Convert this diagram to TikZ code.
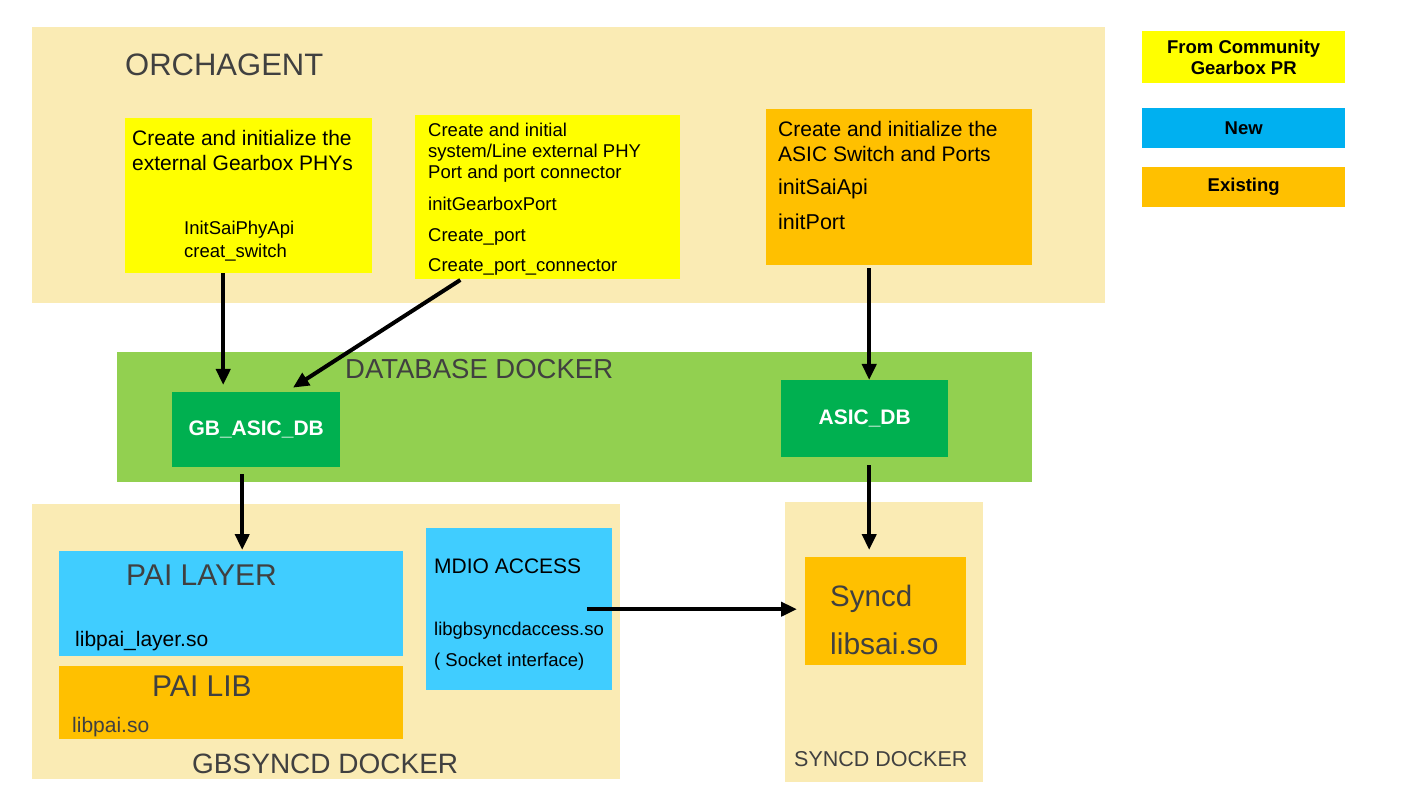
\documentclass[tikz,border=0pt]{standalone}
\usepackage{fontspec}
\setmainfont{Liberation Sans}
\usetikzlibrary{arrows.meta}
\definecolor{sabbia}{HTML}{FAEBB4}
\definecolor{giallo}{HTML}{FFFF00}
\definecolor{arancio}{HTML}{FFC000}
\definecolor{azzurro}{HTML}{00B0F0}
\definecolor{celeste}{HTML}{40CDFF}
\definecolor{verde}{HTML}{92D050}
\definecolor{verdescuro}{HTML}{00B050}
\definecolor{grigio}{HTML}{404040}
\newcommand{\fsz}[1]{\fontsize{#1}{#1}\selectfont}
\tikzset{
  blocco/.style={anchor=north west, inner sep=0pt},
  testo/.style={anchor=base west, inner sep=0pt},
  legenda/.style={blocco, align=center, font=\fsz{18.5}\bfseries},
  dbbox/.style={blocco, fill=verdescuro, text=white, font=\fsz{21}\bfseries},
  freccia/.style={-{Triangle[length=16pt,width=14pt]}, line width=4pt}
}
\begin{document}
\begin{tikzpicture}[x=1pt,y=-1pt]
  \useasboundingbox (0,0) rectangle (1424,791);
  % contenitori
  \node[blocco, fill=sabbia, minimum width=1073pt, minimum height=276pt] (orch) at (32,27) {}; % orchagent
  \node[blocco, fill=verde, minimum width=915pt, minimum height=130pt] (db) at (117,352) {}; % database docker
  \node[blocco, fill=sabbia, minimum width=588pt, minimum height=275pt] (gbsync) at (32,504) {}; % gbsyncd docker
  \node[blocco, fill=sabbia, minimum width=198pt, minimum height=280pt] (syncdock) at (785,502) {}; % syncd docker
  % riquadri orchagent
  \node[blocco, fill=giallo, minimum width=247pt, minimum height=155pt] (phy) at (125,118) {};
  \node[blocco, fill=giallo, minimum width=265pt, minimum height=164pt] (port) at (415,115) {};
  \node[blocco, fill=arancio, minimum width=266pt, minimum height=156pt] (asic) at (766,109) {};
  % legenda
  \node[legenda, fill=giallo, minimum width=203pt, minimum height=52pt] (legCom) at (1142,31) {From Community\\[2.5pt]Gearbox PR};
  \node[legenda, fill=azzurro, minimum width=203pt, minimum height=40pt] (legNew) at (1142,108) {New};
  \node[legenda, fill=arancio, minimum width=203pt, minimum height=40pt] (legOld) at (1142,167) {Existing};
  % database
  \node[dbbox, minimum width=168pt, minimum height=75pt] (gbdb) at (172,392) {GB\_ASIC\_DB};
  \node[dbbox, minimum width=167pt, minimum height=77pt] (asicdb) at (781,380) {ASIC\_DB};
  % gbsyncd e syncd
  \node[blocco, fill=celeste, minimum width=344pt, minimum height=105pt] (pail) at (59,551) {}; % pai layer
  \node[blocco, fill=arancio, minimum width=344pt, minimum height=73pt] (pailib) at (59,666) {}; % pai lib
  \node[blocco, fill=celeste, minimum width=186pt, minimum height=162pt] (mdio) at (426,528) {}; % mdio access
  \node[blocco, fill=arancio, minimum width=161pt, minimum height=108pt] (syncd) at (805,557) {}; % syncd
  % testi
  \node[testo, font=\fsz{31}, text=grigio] (tOrch) at (125,76) {ORCHAGENT};
  \node[testo, font=\fsz{21}] (tPhy1) at (132,146) {Create and initialize the};
  \node[testo, font=\fsz{21}] (tPhy2) at (132,171) {external Gearbox PHYs};
  \node[testo, font=\fsz{18.5}] (tPhy3) at (184,235) {InitSaiPhyApi};
  \node[testo, font=\fsz{18.5}] (tPhy4) at (184,258) {creat\_switch};
  \node[testo, font=\fsz{18.5}] (tPort1) at (428,137) {Create and initial};
  \node[testo, font=\fsz{18.5}] (tPort2) at (428,158) {system/Line external PHY};
  \node[testo, font=\fsz{18.5}] (tPort3) at (428,179) {Port and port connector};
  \node[testo, font=\fsz{18.5}] (tPort4) at (428,211) {initGearboxPort};
  \node[testo, font=\fsz{18.5}] (tPort5) at (428,242) {Create\_port};
  \node[testo, font=\fsz{18.5}] (tPort6) at (428,272) {Create\_port\_connector};
  \node[testo, font=\fsz{21}] (tAsic1) at (778,137) {Create and initialize the};
  \node[testo, font=\fsz{21}] (tAsic2) at (778,162) {ASIC Switch and Ports};
  \node[testo, font=\fsz{21.5}] (tAsic3) at (778,195) {initSaiApi};
  \node[testo, font=\fsz{21.5}] (tAsic4) at (778,230) {initPort};
  \node[testo, font=\fsz{27.5}, text=grigio] (tDb) at (345,379) {DATABASE DOCKER};
  \node[testo, font=\fsz{30}, text=grigio] (tPail) at (126,585) {PAI LAYER};
  \node[testo, font=\fsz{21}] (tPail2) at (75,646) {libpai\_layer.so};
  \node[testo, font=\fsz{30}, text=grigio] (tLib) at (152,696) {PAI LIB};
  \node[testo, font=\fsz{21}, text=grigio] (tLib2) at (72,732) {libpai.so};
  \node[testo, font=\fsz{28}, text=grigio] (tGbs) at (192,773) {GBSYNCD DOCKER};
  \node[testo, font=\fsz{21}] (tMdio1) at (434,573) {MDIO ACCESS};
  \node[testo, font=\fsz{18.5}] (tMdio2) at (434,635) {libgbsyncdaccess.so};
  \node[testo, font=\fsz{18.5}] (tMdio3) at (434,666) {( Socket interface)};
  \node[testo, font=\fsz{29.5}, text=grigio] (tSyncd1) at (830,606) {Syncd};
  \node[testo, font=\fsz{30}, text=grigio] (tSyncd2) at (830,654) {libsai.so};
  \node[testo, font=\fsz{21.5}, text=grigio] (tSdock) at (794,766) {SYNCD DOCKER};
  % frecce
  \draw[freccia, shorten >=7pt] ([xshift=-25.5pt]phy.south) -- ([xshift=-25.5pt]phy.south |- gbdb.north); % phy -> gb_asic_db
  \draw[freccia, shorten <=1pt, shorten >=8pt] ([xshift=-86.5pt]port.south) -- ([xshift=30pt]gbdb.north); % port -> gb_asic_db
  \draw[freccia, shorten <=3pt] ([xshift=-30pt]asic.south) -- ([xshift=-30pt]asic.south |- asicdb.north); % asic -> asic_db
  \draw[freccia, shorten <=7pt, shorten >=1pt] ([xshift=-14pt]gbdb.south) -- ([xshift=-14pt]gbdb.south |- pail.north); % gb_asic_db -> pai layer
  \draw[freccia, shorten <=8pt, shorten >=7pt] ([xshift=4.5pt]asicdb.south) -- ([xshift=4.5pt]asicdb.south |- syncd.north); % asic_db -> syncd
  \draw[freccia, shorten >=8pt] ([xshift=68pt]mdio.center) -- (mdio.center -| syncd.west); % mdio -> syncd
\end{tikzpicture}
\end{document}
